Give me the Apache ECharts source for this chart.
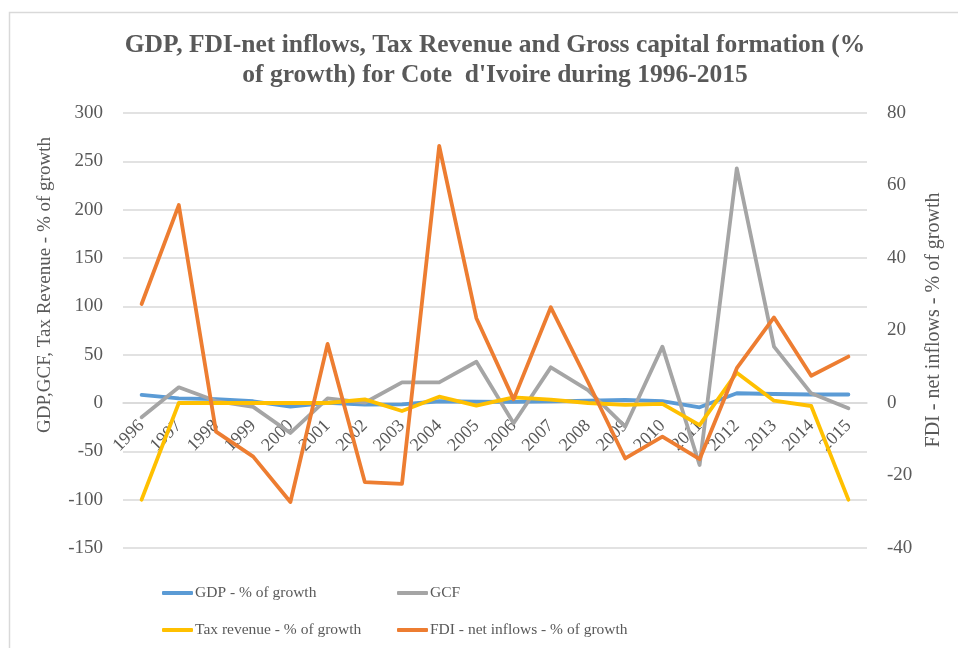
<!DOCTYPE html>
<html>
<head>
<meta charset="utf-8">
<script src="https://cdn.jsdelivr.net/npm/echarts@6/dist/echarts.min.js"></script>
<style>
html,body{margin:0;padding:0;background:#fff;}
#chart{width:958px;height:648px;}
</style>
</head>
<body>
<div id="chart"></div>
<script>
const years = ['1996','1997','1998','1999','2000','2001','2002','2003','2004','2005','2006','2007','2008','2009','2010','2011','2012','2013','2014','2015'];
const gdpGrowth = [8.3, 4.8, 4.1, 1.8, -3.8, 0.1, -1.6, -1.4, 1.8, 1.3, 1.2, 1.7, 2.5, 3.3, 2.0, -4.4, 10.1, 9.3, 8.8, 8.8];
const gcfGrowth = [-14.8, 16.2, 2.0, -4.0, -31.0, 4.8, 0.3, 21.4, 21.4, 42.7, -21.0, 36.9, 13.4, -24.5, 58.3, -64.1, 242.8, 58.3, 10.0, -5.5];
const taxGrowth = [-100, 0, 0, 0, 0, 0, 3.8, -8.3, 6.5, -2.8, 5.9, 3.5, 0, -2.0, -1.0, -22.8, 31.4, 2.4, -3.1, -100];
const fdiGrowth = [27.3, 54.6, -7.9, -14.8, -27.3, 16.3, -21.8, -22.3, 70.9, 23.4, 1.0, 26.4, 5.8, -15.3, -9.3, -15.5, 9.6, 23.6, 7.5, 12.8];
const seriesNames = ['GDP - % of growth', 'GCF', 'Tax revenue - % of growth', 'FDI - net inflows - % of growth'];
const titleText = "GDP, FDI-net inflows, Tax Revenue and Gross capital formation (%\nof growth) for Cote  d'Ivoire during 1996-2015";
const leftAxisTitle = 'GDP,GCF, Tax Revenue - % of growth';
const rightAxisTitle = 'FDI - net inflows - % of growth';

const colors = ['#5B9BD5', '#A5A5A5', '#FFC000', '#ED7D31'];
const serif = '"Liberation Serif", "Times New Roman", serif';
const txt = '#595959';

const chart = echarts.init(document.getElementById('chart'), null, {renderer: 'canvas'});

function legendAt(name, left, top) {
  return {
    data: [name], left: left, top: top, orient: 'horizontal',
    icon: 'roundRect', itemWidth: 31, itemHeight: 4, itemGap: 0,
    textStyle: {fontFamily: serif, fontSize: 15.5, color: txt, padding: [0,0,0,-3]},
    selectedMode: false
  };
}

function mkSeries(i, data, axis) {
  return {
    name: seriesNames[i], type: 'line', data: data, yAxisIndex: axis,
    symbol: 'none', smooth: false, color: colors[i],
    lineStyle: {width: 3.8, color: colors[i], cap: 'round', join: 'round'},
    emphasis: {disabled: true}, z: 2 + i
  };
}

chart.setOption({
  backgroundColor: '#fff',
  animation: false,
  title: {
    text: titleText, left: 490, top: 26, textAlign: 'center',
    textStyle: {fontFamily: serif, fontSize: 25.5, fontWeight: 'bold', color: txt, lineHeight: 29.5}
  },
  legend: [
    legendAt(seriesNames[0], 157, 580),
    legendAt(seriesNames[1], 392, 580),
    legendAt(seriesNames[2], 157, 617),
    legendAt(seriesNames[3], 392, 617)
  ],
  grid: {left: 123, right: 91, top: 113, bottom: 100, containLabel: false},
  xAxis: {
    type: 'category', data: years, boundaryGap: true, position: 'bottom',
    offset: -145,
    axisLine: {show: true, onZero: false, lineStyle: {color: '#d9d9d9', width: 1.5}},
    axisTick: {show: false},
    axisLabel: {interval: 0, rotate: 45, margin: 20, fontFamily: serif, fontSize: 18, color: txt},
    splitLine: {show: false}
  },
  yAxis: [
    {
      type: 'value', min: -150, max: 300, interval: 50, position: 'left',
      axisLine: {show: false}, axisTick: {show: false},
      axisLabel: {margin: 20, fontFamily: serif, fontSize: 19, color: txt},
      splitLine: {show: true, lineStyle: {color: '#d9d9d9', width: 1.5}}
    },
    {
      type: 'value', min: -40, max: 80, interval: 20, position: 'right',
      axisLine: {show: false}, axisTick: {show: false},
      axisLabel: {margin: 20, fontFamily: serif, fontSize: 19, color: txt},
      splitLine: {show: false}
    }
  ],
  graphic: [
    {type: 'rect', left: 7, top: 10, silent: true, z: -10,
     shape: {x: 0, y: 0, width: 1000, height: 700},
     style: {fill: 'none', stroke: '#d9d9d9', lineWidth: 1.5}},
    {type: 'text', x: 45, y: 285, rotation: Math.PI / 2, silent: true,
     style: {text: leftAxisTitle, fontFamily: serif, fontSize: 19, fill: txt, align: 'center', verticalAlign: 'middle'}},
    {type: 'text', x: 934, y: 320, rotation: Math.PI / 2, silent: true,
     style: {text: rightAxisTitle, fontFamily: serif, fontSize: 20, fill: txt, align: 'center', verticalAlign: 'middle'}}
  ],
  series: [
    mkSeries(0, gdpGrowth, 0),
    mkSeries(1, gcfGrowth, 0),
    mkSeries(2, taxGrowth, 0),
    mkSeries(3, fdiGrowth, 1)
  ]
});
</script>
</body>
</html>
